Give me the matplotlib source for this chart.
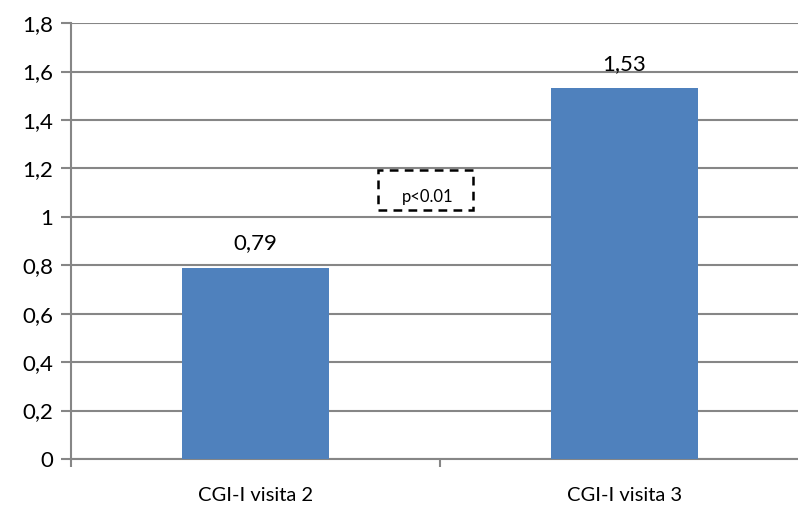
import matplotlib.pyplot as plt
from matplotlib.patches import Rectangle

categorie = ['CGI-I visita 2', 'CGI-I visita 3']
valori = [0.79, 1.53]
etichette_y = ['0', '0,2', '0,4', '0,6', '0,8', '1', '1,2', '1,4', '1,6', '1,8']
tick_y = [0, 0.2, 0.4, 0.6, 0.8, 1.0, 1.2, 1.4, 1.6, 1.8]

plt.rcParams['font.family'] = ['Lato', 'DejaVu Sans']
grigio = '#868686'

fig = plt.figure(figsize=(7.98, 5.08), dpi=100)
ax = fig.add_axes([0.089, 0.0965, 0.911, 0.858])

x = range(len(categorie))
ax.bar(x, valori, width=0.4, color='#4F81BD', zorder=3)

# etichette dei valori sopra le barre
for xi, v in zip(x, valori):
    ax.text(xi, v + 0.06, f'{v:.2f}'.replace('.', ','), ha='center', va='bottom', fontsize=16)

ax.set_ylim(0, 1.8)
ax.set_xlim(-0.5, 1.47)
ax.set_yticks(tick_y)
ax.set_yticklabels(etichette_y, fontsize=16)
ax.yaxis.grid(True, color=grigio, linewidth=1.5, zorder=0)

# tick tra le categorie, etichette al centro
ax.set_xticks([-0.5, 0.5])
ax.set_xticklabels([])
ax.set_xticks(list(x), minor=True)
ax.set_xticklabels(categorie, minor=True, fontsize=14.5)
ax.tick_params(axis='x', which='minor', length=0, pad=20)
ax.tick_params(axis='x', which='major', length=6, width=1.5, color=grigio)
ax.tick_params(axis='y', length=7, width=1.5, color=grigio, pad=6)

for lato in ['top', 'right']:
    ax.spines[lato].set_visible(False)
for lato in ['left', 'bottom']:
    ax.spines[lato].set_color(grigio)
    ax.spines[lato].set_linewidth(1.5)

# riquadro tratteggiato con la significativita'
ax.add_patch(Rectangle((0.422, 0.571), 0.131, 0.0917, transform=ax.transAxes,
                       fill=False, edgecolor='black', linewidth=1.8,
                       linestyle=(0, (3.5, 2.5)), zorder=4, clip_on=False))
ax.text(0.491, 0.601, 'p<0.01', transform=ax.transAxes, ha='center', va='center', fontsize=12)

fig.savefig('out.png', dpi=100)
